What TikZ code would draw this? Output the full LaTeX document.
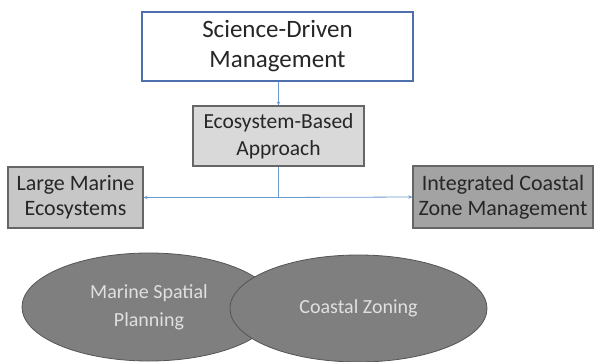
\documentclass[tikz,border=0pt]{standalone}
\usepackage{fontspec}
\setmainfont{Carlito}
\usetikzlibrary{arrows.meta,shapes.geometric}
\definecolor{topblue}{HTML}{4F6FAE}
\definecolor{linkblue}{HTML}{6A9AD0}
\definecolor{boxedge}{HTML}{666666}
\definecolor{ovalfill}{HTML}{7F7F7F}
\definecolor{ovaledge}{HTML}{555555}
\begin{document}
\begin{tikzpicture}[x=1pt,y=-1pt,
  box/.style={draw=boxedge,line width=1.2pt,align=center,inner sep=0pt,
    font=\fontsize{22}{25}\selectfont,text=black!85},
  oval/.style={ellipse,draw=ovaledge,line width=0.8pt,fill=ovalfill,
    align=center,font=\fontsize{20}{28}\selectfont,text=white!88!black},
  link/.style={draw=linkblue,line width=0.8pt,-{Stealth[length=4pt,width=3.5pt]}}]
\useasboundingbox[fill=white] (0,0) rectangle (598,362);

% headline box
\node[box,draw=topblue,line width=1.8pt,fill=white,minimum width=271pt,minimum height=69pt,
  font=\fontsize{25}{30}\selectfont] (sdm) at (277.5,46.5) {Science-Driven\\Management};
% approach box
\node[box,fill=black!15,minimum width=171pt,minimum height=60pt,
  font=\fontsize{21.5}{27}\selectfont] (eba) at (278.5,136) {Ecosystem-Based\\Approach};
% side boxes
\node[box,fill=black!22,minimum width=135pt,minimum height=61pt] (lme) at (75.5,197.5) {Large Marine\\Ecosystems};
\node[box,fill=black!36,minimum width=180pt,minimum height=62pt] (iczm) at (503,197) {Integrated Coastal\\Zone Management};

% overlapping ellipses
\node[oval,minimum width=254pt,minimum height=108pt] (msp) at (149,307) {Marine Spatial\\Planning};
\node[oval,minimum width=257pt,minimum height=107pt] (cz) at (358.5,308.5) {Coastal Zoning};

% connectors
\coordinate (split) at (eba.south |- lme.east);
\draw[link] (sdm.south -| eba.north) -- (eba.north);
\draw[draw=linkblue,line width=0.8pt] (eba.south) -- (split);
\draw[link] (split) -- (lme.east);
\draw[link] (split) -- (iczm.west);
\end{tikzpicture}
\end{document}
